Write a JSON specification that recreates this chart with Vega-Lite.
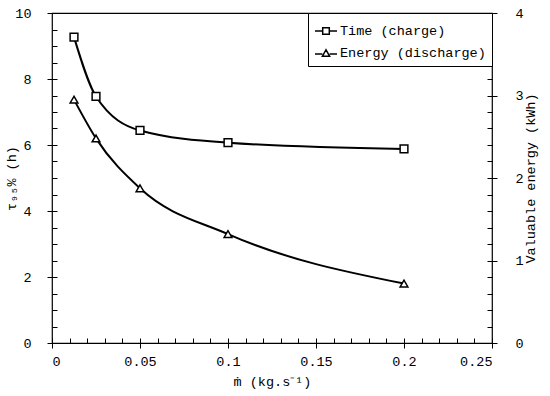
{
  "$schema": "https://vega.github.io/schema/vega-lite/v6.json",
  "width": 440,
  "height": 330,
  "autosize": {"type": "none"},
  "padding": {"left": 52, "top": 13, "right": 58, "bottom": 53},
  "background": "white",
  "config": {
    "view": {"stroke": "black", "strokeWidth": 1.2},
    "font": "Liberation Mono",
    "axis": {
      "labelFont": "Liberation Mono",
      "titleFont": "Liberation Mono",
      "labelFontSize": 13.5,
      "titleFontSize": 13.5,
      "labelColor": "black",
      "titleColor": "black",
      "titleFontWeight": "normal",
      "tickColor": "black",
      "domainColor": "black",
      "grid": false
    }
  },
  "datasets": {
    "pts": [
      {"mdot": 0.0125, "series": "Time (charge)", "value": 9.27},
      {"mdot": 0.025, "series": "Time (charge)", "value": 7.47},
      {"mdot": 0.05, "series": "Time (charge)", "value": 6.44},
      {"mdot": 0.1, "series": "Time (charge)", "value": 6.07},
      {"mdot": 0.2, "series": "Time (charge)", "value": 5.88},
      {"mdot": 0.0125, "series": "Energy (discharge)", "value": 2.95},
      {"mdot": 0.025, "series": "Energy (discharge)", "value": 2.48},
      {"mdot": 0.05, "series": "Energy (discharge)", "value": 1.875},
      {"mdot": 0.1, "series": "Energy (discharge)", "value": 1.32},
      {"mdot": 0.2, "series": "Energy (discharge)", "value": 0.72}
    ]
  },
  "data": {"name": "pts"},
  "encoding": {
    "x": {
      "field": "mdot",
      "type": "quantitative",
      "scale": {"domain": [0, 0.25], "nice": false, "zero": false},
      "axis": {
        "title": "ṁ (kg.s⁻¹)",
        "values": [0,0.01,0.02,0.03,0.04,0.05,0.06,0.07,0.08,0.09,0.1,0.11,0.12,0.13,0.14,0.15,0.16,0.17,0.18,0.19,0.2,0.21,0.22,0.23,0.24,0.25],
        "domain": false,
        "offset": -5,
        "tickSize": {"condition": {"test": "round(datum.value*100) % 5 === 0", "value": 10}, "value": 5},
        "tickWidth": 1,
        "labelPadding": 6,
        "labelExpr": "round(datum.value*100) % 5 === 0 ? '' + round(datum.value*100)/100 : ''",
        "titlePadding": 7
      }
    }
  },
  "layer": [
    {
      "transform": [{"filter": "datum.series === 'Time (charge)'"}],
      "encoding": {
        "y": {
          "field": "value",
          "type": "quantitative",
          "scale": {"domain": [0, 10], "nice": false},
          "axis": {
            "title": "τ₉₅% (h)",
            "orient": "left",
            "values": [0,0.5,1,1.5,2,2.5,3,3.5,4,4.5,5,5.5,6,6.5,7,7.5,8,8.5,9,9.5,10],
            "domain": false,
            "offset": -5,
            "tickSize": {"condition": {"test": "datum.value % 2 === 0", "value": 10}, "value": 5},
            "labelPadding": 16,
            "labelExpr": "datum.value % 2 === 0 ? '' + datum.value : ''",
            "titlePadding": -4
          }
        }
      },
      "layer": [
        {"mark": {"type": "line", "interpolate": "monotone", "color": "black", "strokeWidth": 2}},
        {"mark": {"type": "point", "shape": "square", "filled": true, "fill": "white", "stroke": "black", "strokeWidth": 1.5, "size": 60, "opacity": 1}}
      ]
    },
    {
      "transform": [{"filter": "datum.series === 'Energy (discharge)'"}],
      "encoding": {
        "y": {
          "field": "value",
          "type": "quantitative",
          "scale": {"domain": [0, 4], "nice": false},
          "axis": {
            "title": "Valuable energy (kWh)",
            "orient": "right",
            "titleAngle": 270,
            "titleBaseline": "top",
            "values": [0,0.2,0.4,0.6,0.8,1,1.2,1.4,1.6,1.8,2,2.2,2.4,2.6,2.8,3,3.2,3.4,3.6,3.8,4],
            "domain": false,
            "offset": -5,
            "tickSize": {"condition": {"test": "abs(datum.value - round(datum.value)) < 0.001", "value": 10}, "value": 5},
            "labelPadding": 18,
            "labelExpr": "abs(datum.value - round(datum.value)) < 0.001 ? '' + round(datum.value) : ''",
            "titlePadding": 0
          }
        }
      },
      "layer": [
        {"mark": {"type": "line", "interpolate": "monotone", "color": "black", "strokeWidth": 2}},
        {"mark": {"type": "point", "shape": "triangle-up", "filled": true, "fill": "white", "stroke": "black", "strokeWidth": 1.5, "size": 60, "opacity": 1}}
      ]
    },
    {
      "transform": [{"filter": "datum.mdot > 1"}],
      "mark": {"type": "point", "filled": false, "stroke": "black", "strokeWidth": 1.5, "opacity": 1},
      "encoding": {
        "shape": {
          "field": "series",
          "type": "nominal",
          "scale": {
            "domain": ["Time (charge)", "Energy (discharge)"],
            "range": ["M-1,0L-0.3,0M0.3,0L1,0M-0.3,-0.3L0.3,-0.3L0.3,0.3L-0.3,0.3Z", "M-1,0.1L-0.33,0.1M0.33,0.1L1,0.1M-0.33,0.3L0,-0.3L0.33,0.3Z"]
          },
          "legend": {
            "title": null,
            "orient": "top-right",
            "offset": 0,
            "padding": 6,
            "strokeColor": "black",
            "fillColor": "white",
            "labelFont": "Liberation Mono",
            "labelFontSize": 13.5,
            "labelColor": "black",
            "rowPadding": 3,
            "symbolSize": 484,
            "labelOffset": 2,
            "symbolOpacity": 1,
            "symbolFillColor": "white",
            "symbolStrokeColor": "black",
            "symbolStrokeWidth": 1.5
          }
        }
      }
    }
  ],
  "resolve": {"scale": {"y": "independent"}}
}
